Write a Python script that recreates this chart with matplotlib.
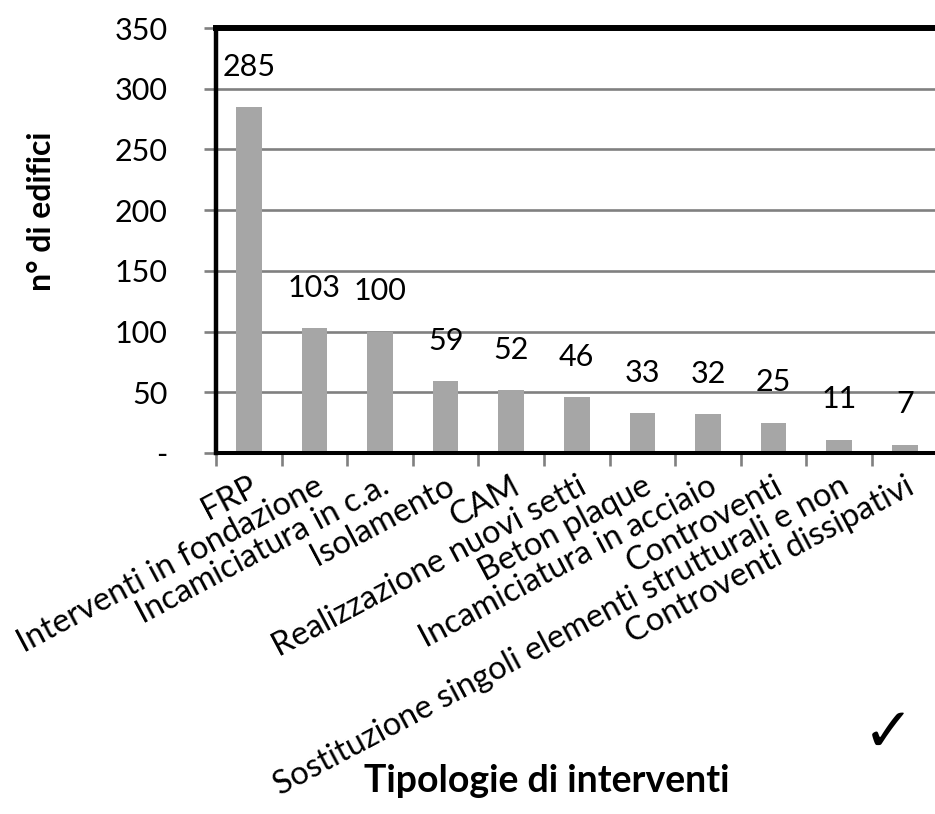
import matplotlib
matplotlib.use("Agg")
import matplotlib.pyplot as plt
import numpy as np

# Number of buildings per type of retrofit intervention
categories = [
    "FRP",
    "Interventi in fondazione",
    "Incamiciatura in c.a.",
    "Isolamento",
    "CAM",
    "Realizzazione nuovi setti",
    "Beton plaque",
    "Incamiciatura in acciaio",
    "Controventi",
    "Sostituzione singoli elementi strutturali e non",
    "Controventi dissipativi",
]
counts = [285, 103, 100, 59, 52, 46, 33, 32, 25, 11, 7]
y_ticks = [0, 50, 100, 150, 200, 250, 300, 350]
y_tick_labels = ["-", "50", "100", "150", "200", "250", "300", "350"]

plt.rcParams["font.family"] = ["Lato", "DejaVu Sans"]

fig = plt.figure(figsize=(9.35, 8.14), dpi=100)
ax = fig.add_axes([216 / 935, 1 - 453 / 814, 1 - 216 / 935, (453 - 28) / 814])

x = np.arange(len(categories))
ax.bar(x, counts, width=0.39, color="#a6a6a6", zorder=3)

for xi, v in zip(x, counts):
    ax.annotate(str(v), (xi, v), xytext=(0, 29), textcoords="offset points",
                ha="center", va="center", fontsize=22, color="black")

ax.set_xlim(-0.5, 10.46)
ax.set_ylim(0, 350)

# horizontal gridlines
ax.set_yticks(y_ticks)
ax.set_yticklabels(y_tick_labels, fontsize=22)
ax.grid(axis="y", color="#808080", linewidth=1.9, zorder=1)
ax.tick_params(axis="y", length=9, width=1.9, color="#808080", pad=26)

# category labels at bar centres, tick marks between categories
ax.set_xticks(x)
ax.set_xticklabels(categories, rotation=28, ha="right", va="top",
                   rotation_mode="anchor", fontsize=23.5)
ax.tick_params(axis="x", which="major", length=0, pad=13)
ax.set_xticks(np.arange(len(categories)) - 0.5, minor=True)
ax.tick_params(axis="x", which="minor", length=9, width=1.9, color="#808080")

ax.spines["right"].set_visible(False)
ax.spines["top"].set_linewidth(4.3)
ax.spines["left"].set_linewidth(3.2)
ax.spines["bottom"].set_linewidth(2.9)
for s in ["top", "left", "bottom"]:
    ax.spines[s].set_color("black")
    ax.spines[s].set_zorder(4)

fig.text(42 / 935, 1 - 211 / 814, "n° di edifici", rotation=90, ha="center",
         va="center", fontsize=23, fontweight="bold")
fig.text(547 / 935, 1 - 781 / 814, "Tipologie di interventi", ha="center",
         va="center", fontsize=27, fontweight="bold")
fig.text(888 / 935, 1 - 734 / 814, "\u2713", ha="center", va="center",
         fontsize=44, family="DejaVu Sans", fontweight="bold")

fig.savefig("out.png", dpi=100)
